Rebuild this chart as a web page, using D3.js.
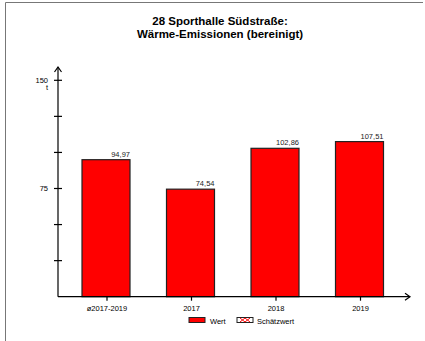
<!DOCTYPE html>
<html><head><meta charset="utf-8">
<script src="https://cdn.jsdelivr.net/npm/d3@7"></script>
<style>body{margin:0;background:#fff}svg{display:block;font-family:"Liberation Sans",Arial,sans-serif}</style>
</head><body><svg id="c" width="425" height="341"></svg>
<script>
const categories = ["ø2017-2019", "2017", "2018", "2019"];
const values = [94.97, 74.54, 102.86, 107.51];
const valueLabels = ["94,97", "74,54", "102,86", "107,51"];
const yTicks = [0, 25, 50, 75, 100, 125, 150];
const yLabelTicks = [75, 150];
const titleLines = ["28 Sporthalle Südstraße:", "Wärme-Emissionen (bereinigt)"];
const legendItems = ["Wert", "Schätzwert"];

const svg = d3.select("#c");
// frame
svg.append("path").attr("d","M5.5,341 V2.5 H423").attr("fill","none").attr("stroke","#777").attr("stroke-width",1);

svg.selectAll("text.title").data(titleLines).join("text")
  .attr("x",220).attr("y",(d,i)=>25+i*13).attr("text-anchor","middle")
  .attr("font-weight","bold").attr("font-size",11.5).text(d=>d);

const y = d3.scaleLinear().domain([0,150]).range([296.7,80.3]);
const x = d3.scaleBand().domain(categories).range([63.75,401.75]).paddingInner(0.432).paddingOuter(0.216);

const g = svg.append("g");
// bars
g.selectAll("rect.bar").data(values).join("rect")
  .attr("x",(d,i)=>x(categories[i])).attr("width",x.bandwidth())
  .attr("y",d=>y(d)).attr("height",d=>y(0)-y(d))
  .attr("fill","#ff0000").attr("stroke","#222").attr("stroke-width",1.2);
g.selectAll("text.vl").data(values).join("text")
  .attr("x",(d,i)=>x(categories[i])+x.bandwidth()).attr("y",d=>y(d)-3)
  .attr("text-anchor","end").attr("font-size",7.5).attr("fill","#222").text((d,i)=>valueLabels[i]);

// y axis
const ax = 58;
g.append("line").attr("x1",ax).attr("x2",ax).attr("y1",y(0)).attr("y2",67).attr("stroke","#000").attr("stroke-width",1.2);
g.append("path").attr("d",`M${ax-3.5},${72} L${ax},${67} L${ax+3.5},${72}`).attr("fill","none").attr("stroke","#000").attr("stroke-width",1.2);
g.selectAll("line.yt").data(yTicks.filter(t=>t>0)).join("line")
  .attr("x1",ax-4).attr("x2",ax+4).attr("y1",d=>y(d)).attr("y2",d=>y(d)).attr("stroke","#000").attr("stroke-width",1.2);
g.selectAll("text.yl").data(yLabelTicks).join("text")
  .attr("x",48).attr("y",d=>y(d)+2.5).attr("text-anchor","end").attr("font-size",7.5).text(d=>d);
g.append("text").attr("x",48).attr("y",y(150)+10).attr("text-anchor","end").attr("font-size",7.5).text("t");

// x axis
g.append("line").attr("x1",ax).attr("x2",410).attr("y1",y(0)).attr("y2",y(0)).attr("stroke","#000").attr("stroke-width",1.2);
g.append("path").attr("d",`M405,${y(0)-3.5} L410,${y(0)} L405,${y(0)+3.5}`).attr("fill","none").attr("stroke","#000").attr("stroke-width",1.2);
g.selectAll("line.xt").data(categories).join("line")
  .attr("x1",d=>x(d)+x.bandwidth()/2+1).attr("x2",d=>x(d)+x.bandwidth()/2+1)
  .attr("y1",y(0)).attr("y2",y(0)+4).attr("stroke","#000").attr("stroke-width",1.2);
g.selectAll("text.xl").data(categories).join("text")
  .attr("x",d=>x(d)+x.bandwidth()/2+1).attr("y",y(0)+14).attr("text-anchor","middle").attr("font-size",7.5).text(d=>d);

// legend
const lg = svg.append("g");
lg.append("rect").attr("x",189).attr("y",317.5).attr("width",16).attr("height",5).attr("fill","#ff0000").attr("stroke","#222").attr("stroke-width",1);
lg.append("text").attr("x",210).attr("y",323.5).attr("font-size",7.5).text(legendItems[0]);
lg.append("rect").attr("x",237).attr("y",317.5).attr("width",16).attr("height",5).attr("fill","#fff").attr("stroke","#222").attr("stroke-width",1);
lg.append("path").attr("d","M240,318 L245,322 L250,318 M240,322 L245,318 L250,322").attr("stroke","#ff0000").attr("stroke-width",1).attr("fill","none");
lg.append("text").attr("x",257).attr("y",323.5).attr("font-size",7.5).text(legendItems[1]);
</script></body></html>
